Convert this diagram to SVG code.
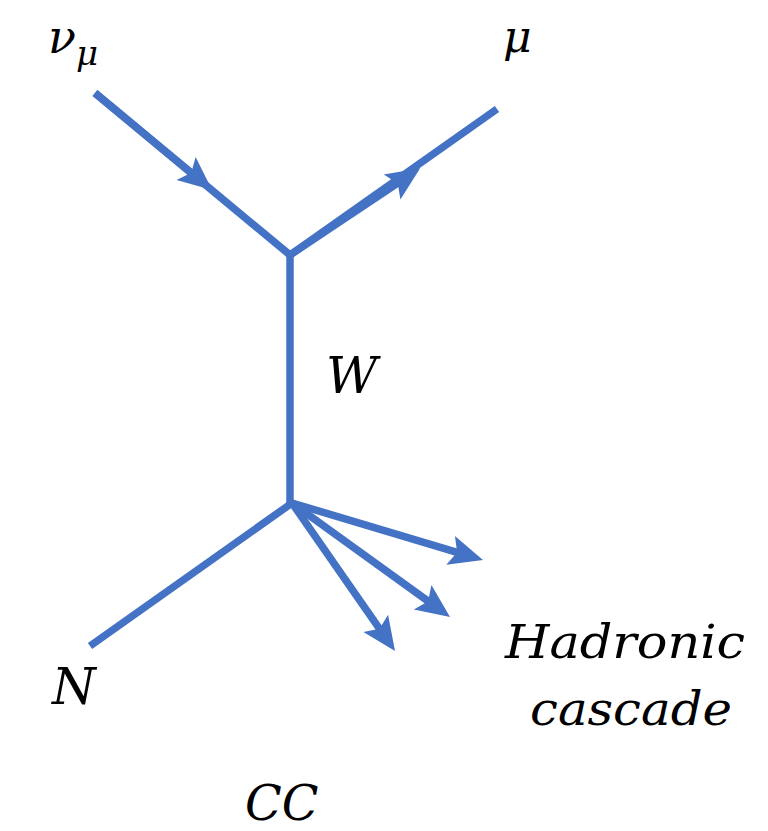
<svg xmlns="http://www.w3.org/2000/svg" width="768" height="831" viewBox="0 0 768 831">
<style>
.ln{stroke:#4472c4;stroke-width:7.5;fill:none;stroke-linecap:butt}
.ah{fill:#4472c4}
.t{font-family:"DejaVu Serif","Liberation Serif",serif;font-style:italic;fill:#000}
</style>
<defs>
<marker id="arr" markerWidth="4.5" markerHeight="4" refX="3" refY="2" orient="auto" markerUnits="strokeWidth" overflow="visible">
<path d="M0,0 L4.5,2 L0,4 L0.9,2 Z" class="ah"/>
</marker>
</defs>
<rect width="768" height="831" fill="#fff"/>
<g id="connectors">
<line class="ln" x1="95" y1="93" x2="290" y2="255"/>
<line class="ln" x1="95" y1="93" x2="203.4" y2="182.8" marker-end="url(#arr)"/>
<line class="ln" x1="290" y1="255" x2="497" y2="109"/>
<line class="ln" x1="290" y1="255" x2="410.8" y2="174.5" marker-end="url(#arr)"/>
<line class="ln" x1="290" y1="255" x2="290" y2="505"/>
<line class="ln" x1="90" y1="646" x2="292" y2="503"/>
<line class="ln" x1="292" y1="503" x2="472.2" y2="556.8" marker-end="url(#arr)"/>
<line class="ln" x1="292" y1="503" x2="440.9" y2="610.4" marker-end="url(#arr)"/>
<line class="ln" x1="292" y1="503" x2="388.6" y2="641.8" marker-end="url(#arr)"/>
</g>
<g id="nu"><text class="t" x="48" y="53" font-size="46">ν</text><text class="t" x="76" y="65" font-size="34">μ</text></g>
<g id="mu"><text class="t" x="503" y="52" font-size="44">μ</text></g>
<g id="W"><text class="t" x="326" y="393" font-size="50">W</text></g>
<g id="N"><text class="t" x="52" y="704" font-size="50">N</text></g>
<g id="hadron"><text class="t" x="505" y="658" font-size="46" textLength="240" lengthAdjust="spacingAndGlyphs">Hadronic</text><text class="t" x="530" y="725" font-size="46" textLength="202" lengthAdjust="spacingAndGlyphs">cascade</text></g>
<g id="CC"><text class="t" x="245" y="820" font-size="48">CC</text></g>
</svg>
